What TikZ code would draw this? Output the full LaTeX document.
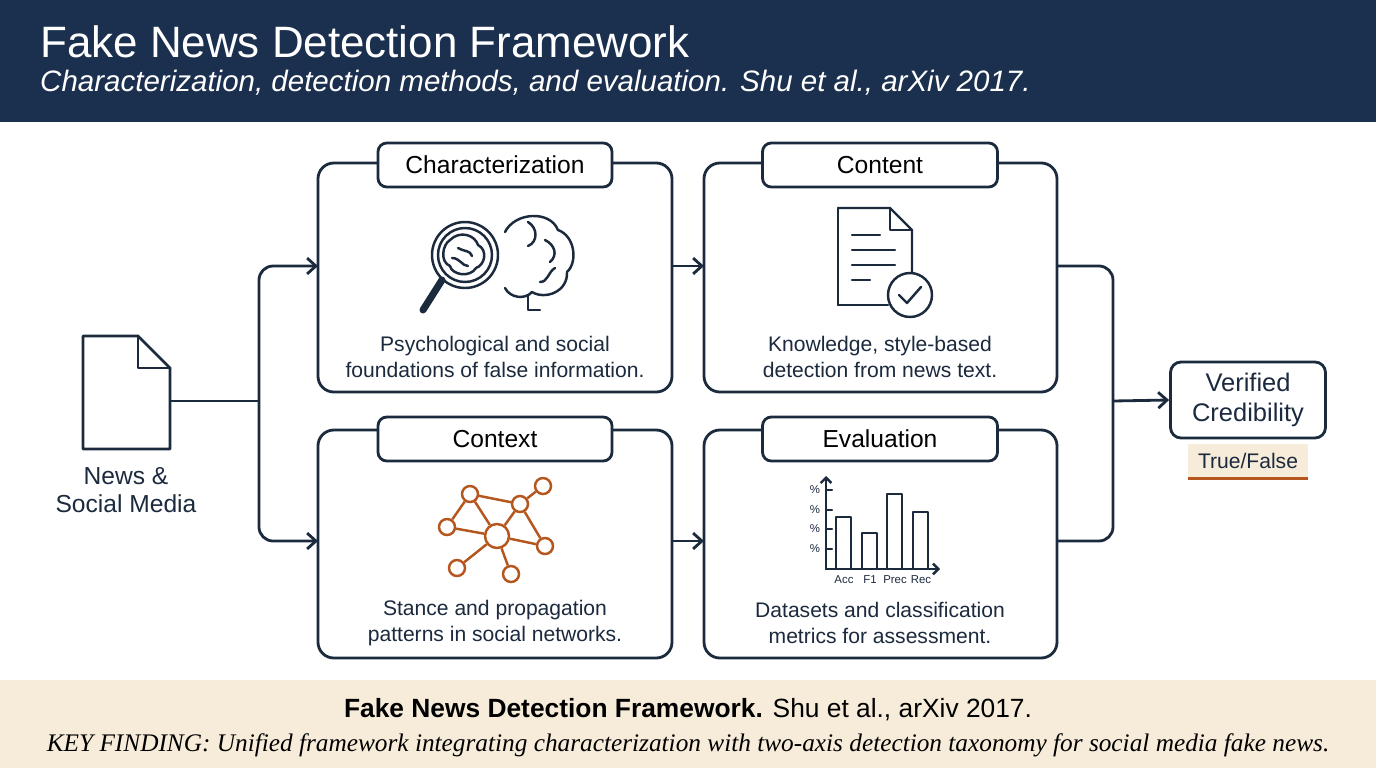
\documentclass[tikz,border=0pt]{standalone}
\usepackage{fontspec}
\setmainfont{Liberation Sans}
\newfontfamily\footserif{Liberation Serif}
\usetikzlibrary{arrows.meta,positioning,calc}
\definecolor{navy}{HTML}{1B2F4E}
\definecolor{ink}{HTML}{1C2A3E}
\definecolor{beige}{HTML}{F6ECD9}
\definecolor{rust}{HTML}{B5561E}
\tikzset{
  panel/.style={draw=ink,line width=1.6pt,rounded corners=9pt,fill=white},
  tabbox/.style={draw=ink,line width=1.6pt,rounded corners=5pt,fill=white,font=\fontsize{14}{16}\selectfont},
  bodytext/.style={align=center,font=\fontsize{12}{14.5}\selectfont,text=ink},
  flow/.style={draw=ink,line width=1.6pt,rounded corners=8pt},
  arr/.style={flow,-{Straight Barb[length=5pt,width=9pt]}},
  icon/.style={draw=ink,line width=1.4pt,line join=round,line cap=round},
  net/.style={draw=rust,line width=1.4pt},
}
\begin{document}
\begin{tikzpicture}[x=0.02cm,y=-0.02cm]
\useasboundingbox (0,0) rectangle (1376,768);

% header and footer
\fill[navy] (0,0) rectangle (1376,122);
\node[anchor=west,text=white,font=\fontsize{25}{28}\selectfont] (title) at (34,42) {Fake News Detection Framework};
\node[anchor=west,text=white,font=\fontsize{16.8}{18}\selectfont\itshape] (subtitle) at (34,83) {Characterization, detection methods, and evaluation. Shu et al., arXiv 2017.};
\fill[beige] (0,680) rectangle (1376,768);
\node[text=black,font=\fontsize{15}{16}\selectfont] (cite) at (688,710) {\textbf{Fake News Detection Framework.} Shu et al., arXiv 2017.};
\node[text=black,font=\footserif\fontsize{14.4}{16}\selectfont\itshape] (finding) at (688,745) {KEY FINDING: Unified framework integrating characterization with two-axis detection taxonomy for social media fake news.};

% panels
\draw[panel] (318,163) rectangle (672,392);
\draw[panel] (704,163) rectangle (1057,392);
\draw[panel] (318,430) rectangle (672,658);
\draw[panel] (704,430) rectangle (1057,658);
\node[tabbox,minimum width=234*0.02cm,minimum height=44*0.02cm] (char) at (495,165) {Characterization};
\node[tabbox,minimum width=235*0.02cm,minimum height=44*0.02cm] (cont) at (880,165) {Content};
\node[tabbox,minimum width=234*0.02cm,minimum height=44*0.02cm] (ctx) at (495,439) {Context};
\node[tabbox,minimum width=235*0.02cm,minimum height=44*0.02cm] (eval) at (880,439) {Evaluation};
\node[bodytext] (chartext) at (495,357) {Psychological and social\\foundations of false information.};
\node[bodytext] (conttext) at (880,357) {Knowledge, style-based\\detection from news text.};
\node[bodytext] (ctxtext) at (495,623) {Stance and propagation\\patterns in social networks.};
\node[bodytext] (evaltext) at (880,623) {Datasets and classification\\metrics for assessment.};

% news document
\draw[icon,line width=1.6pt] (83,336) -- (138,336) -- (170,368) -- (170,449) -- (83,449) -- cycle;
\draw[icon,line width=1.6pt] (138,336) -- (138,368) -- (170,368);
\node[bodytext,font=\fontsize{14}{16}\selectfont] (news) at (126,490) {News \&\\Social Media};
\coordinate (src) at (170,401);

% brain and magnifier
\draw[icon] (505,232) .. controls (515,212) and (550,210) .. (558,230)
  .. controls (575,236) and (578,262) .. (567,272)
  .. controls (568,292) and (545,300) .. (532,292)
  .. controls (525,300) and (510,298) .. (505,288);
\draw[icon] (528,222) .. controls (538,228) and (538,242) .. (528,246);
\draw[icon] (545,240) .. controls (555,245) and (558,255) .. (550,262);
\draw[icon] (555,268) .. controls (548,272) and (548,282) .. (540,282);
\draw[icon] (528,296) -- (528,310) -- (540,310);
\draw[icon,fill=white] (465,255) circle (33);
\draw[icon] (465,255) circle (27);
\draw[icon] (450,240) .. controls (460,230) and (475,235) .. (478,245)
  .. controls (488,250) and (485,265) .. (476,268)
  .. controls (470,278) and (452,275) .. (450,266)
  .. controls (440,262) and (442,245) .. (450,240);
\draw[icon] (458,248) .. controls (465,252) and (470,250) .. (472,256);
\draw[icon] (452,258) .. controls (460,258) and (462,266) .. (468,266);
\draw[icon,line width=4pt] (442,280) -- (423,310);

% document with check
\draw[icon] (838,208) -- (890,208) -- (912,230) -- (912,272);
\draw[icon] (888,305) -- (838,305) -- cycle;
\draw[icon] (838,208) -- (838,305);
\draw[icon] (890,208) -- (890,230) -- (912,230);
\foreach \yy/\xe in {235/880,250/895,265/895,280/870} \draw[icon] (852,\yy) -- (\xe,\yy);
\draw[icon,fill=white] (910,295) circle (22);
\draw[icon] (899,295) -- (907,303) -- (921,287);

% network
\foreach \n/\px/\py in {na/447/527,nb/470/494,nd/520/504,ne/543/486,nf/545/546,ng/511/574,nh/457/568}
  \node[circle,net,fill=white,minimum size=16*0.02cm,inner sep=0pt] (\n) at (\px,\py) {};
\node[circle,net,fill=white,minimum size=24*0.02cm,inner sep=0pt] (nc) at (497,536) {};
\foreach \s/\t in {na/nb,na/nc,nb/nc,nb/nd,nd/nc,nd/ne,nd/nf,nc/nf,nc/ng,nc/nh}
  \draw[net] (\s) -- (\t);

% bar chart
\draw[icon,-{Straight Barb[length=3pt,width=6pt]}] (826,569) -- (826,476);
\draw[icon,-{Straight Barb[length=3pt,width=6pt]}] (826,569) -- (940,569);
\foreach \ty in {490,510,529,549} {
  \draw[icon] (826,\ty) -- (832,\ty);
  \node[font=\fontsize{6.5}{7}\selectfont,text=ink] at (815,\ty) {\%};
}
\foreach \bx/\by in {836/517,862/533,887/494,913/512}
  \draw[icon] (\bx,569) -- (\bx,\by) -- (\bx+15,\by) -- (\bx+15,569);
\foreach \lx/\lt in {844/Acc,870/F1,895/Prec,921/Rec}
  \node[font=\fontsize{6.5}{7}\selectfont,text=ink] at (\lx,580) {\lt};

% output
\node[draw=ink,line width=1.6pt,rounded corners=6pt,minimum width=155*0.02cm,minimum height=76*0.02cm,align=center,font=\fontsize{14.5}{17}\selectfont,text=ink] (verified) at (1248,400) {Verified\\Credibility};
\node[fill=beige,minimum width=120*0.02cm,minimum height=35*0.02cm,font=\fontsize{12}{13}\selectfont,text=ink] (tf) at (1248,461) {True/False};
\draw[rust,line width=1.6pt] (tf.south west) -- (tf.south east);

% connectors
\coordinate (split) at (259,401);
\draw[flow] (src) -- (split);
\draw[arr] (split) |- (318,266);
\draw[arr] (split) |- (318,541);
\draw[arr] (672,266) -- (704,266);
\draw[arr] (672,541) -- (704,541);
\coordinate (merge) at (1113,401);
\draw[flow] (1057,266) -| (merge);
\draw[flow] (1057,541) -| (merge);
\draw[arr] (merge) -- (verified.west);
\end{tikzpicture}
\end{document}
